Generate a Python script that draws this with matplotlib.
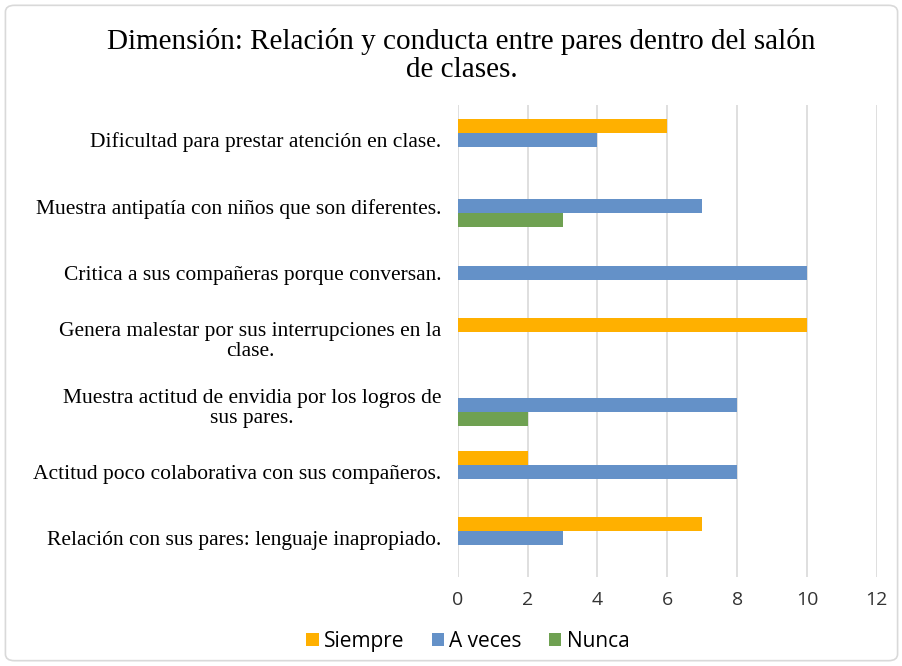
import matplotlib.pyplot as plt
import numpy as np
from matplotlib.patches import FancyBboxPatch

categories = [
    "Relación con sus pares: lenguaje inapropiado.",
    "Actitud poco colaborativa con sus compañeros.",
    "Muestra actitud de envidia por los logros de\nsus pares.",
    "Genera malestar por sus interrupciones en la\nclase.",
    "Critica a sus compañeras porque conversan.",
    "Muestra antipatía con niños que son diferentes.",
    "Dificultad para prestar atención en clase.",
]
siempre = [7, 2, 0, 10, 0, 0, 6]
a_veces = [3, 8, 8, 0, 10, 7, 4]
nunca = [0, 0, 2, 0, 0, 3, 0]
x_ticks = [0, 2, 4, 6, 8, 10, 12]

fig = plt.figure(figsize=(9.03, 6.66), dpi=100)
fig.patches.append(FancyBboxPatch((0.006, 0.008), 0.988, 0.984, boxstyle="round,pad=0,rounding_size=0.01",
                                  transform=fig.transFigure, fill=False, edgecolor="#d9d9d9", linewidth=1.2))
ax = fig.add_axes([0.507, 0.134, 0.464, 0.708])

y = np.arange(len(categories))
h = 0.21
ax.barh(y + h, siempre, height=h, color="#FFB000", label="Siempre", zorder=3)
ax.barh(y, a_veces, height=h, color="#6491C8", label="A veces", zorder=3)
ax.barh(y - h, nunca, height=h, color="#6FA152", label="Nunca", zorder=3)

ax.set_xlim(0, 12)
ax.set_ylim(-0.58, 6.52)
ax.set_xticks(x_ticks)
ax.set_xticklabels([str(t) for t in x_ticks], family="Open Sans", fontsize=14, color="#333333")
ax.set_yticks(y)
ax.set_yticklabels(categories, family="Liberation Serif", fontsize=15.5, multialignment="center",
                   linespacing=1.05)
ax.tick_params(axis="both", length=0)
ax.tick_params(axis="y", pad=12)
ax.tick_params(axis="x", pad=10)
ax.grid(axis="x", color="#d9d9d9", linewidth=1.2, zorder=0)
for s in ax.spines.values():
    s.set_visible(False)

fig.text(0.511, 0.917, "Dimensión: Relación y conducta entre pares dentro del salón\nde clases.",
         ha="center", va="center", family="Liberation Serif", fontsize=21, linespacing=1.12)

leg = ax.legend(loc="center", bbox_to_anchor=(0.518, 0.037), bbox_transform=fig.transFigure,
                ncol=3, frameon=False, handlelength=0.6, handleheight=0.6, handletextpad=0.25,
                columnspacing=1.3, prop={"family": "Open Sans", "size": 15})

fig.savefig("out.png", dpi=100)
